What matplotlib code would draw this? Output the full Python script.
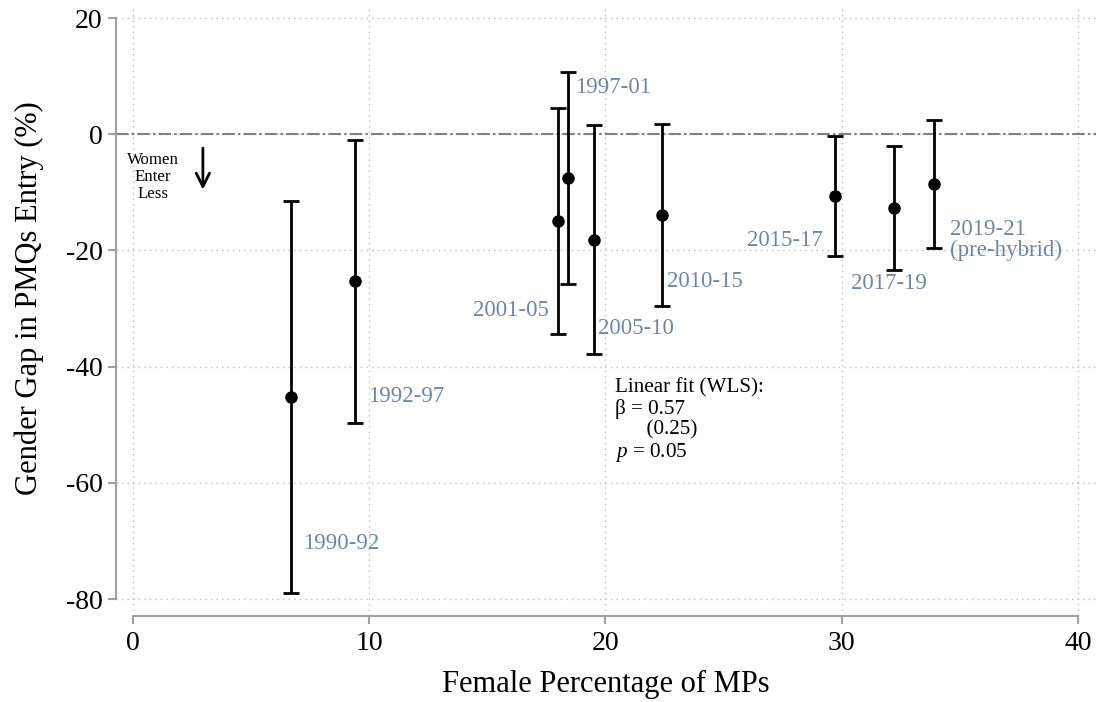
import matplotlib
matplotlib.use("Agg")
import matplotlib.pyplot as plt

plt.rcParams["font.family"] = ["Liberation Serif", "DejaVu Serif"]
plt.rcParams["mathtext.fontset"] = "custom"
plt.rcParams["mathtext.it"] = "Liberation Serif:italic"
plt.rcParams["mathtext.rm"] = "Liberation Serif"

# data
periods = ["1990-92", "1992-97", "2001-05", "1997-01", "2005-10",
           "2010-15", "2015-17", "2017-19", "2019-21\n(pre-hybrid)"]
female_pct = [6.7, 9.4, 18.0, 18.4, 19.5, 22.4, 29.7, 32.2, 33.9]
gap = [-45.2, -25.3, -14.9, -7.5, -18.2, -13.9, -10.6, -12.7, -8.6]
ci_low = [-79.0, -49.7, -34.4, -25.8, -37.8, -29.6, -21.0, -23.4, -19.6]
ci_high = [-11.5, -1.0, 4.5, 10.7, 1.6, 1.8, -0.3, -2.0, 2.4]

# label anchor (x, y, ha) for each period
label_pos = [(7.2, -70.4, "left"), (9.95, -45.1, "left"), (17.6, -30.3, "right"),
             (18.7, 8.0, "left"), (19.7, -33.4, "left"), (22.6, -25.4, "left"),
             (29.2, -18.2, "right"), (30.4, -25.6, "left"), (34.6, -18.2, "left")]

LABEL_COLOR = "#6a87a6"
AXIS_GRAY = "#a0a0a0"

fig = plt.figure(figsize=(10.98, 7.02), dpi=100)
ax = fig.add_axes([0.1056, 0.1225, 0.8923, 0.8642])

yerr = [[g - lo for g, lo in zip(gap, ci_low)],
        [hi - g for g, hi in zip(gap, ci_high)]]
ax.errorbar(female_pct, gap, yerr=yerr, fmt="o", color="black", ecolor="black",
            markersize=8, elinewidth=2, capsize=6, capthick=2, zorder=3)

for name, (lx, ly, ha) in zip(periods, label_pos):
    ax.text(lx, ly, name, color=LABEL_COLOR, fontsize=16.5, ha=ha, va="center",
            linespacing=1.0)

ax.axhline(0, color="#808080", lw=1.5, dashes=(6, 1.5, 1.2, 1.5), zorder=1)

ax.text(0.85, -7.4, "Women\nEnter\nLess", fontsize=12.2, ha="center", va="center",
        linespacing=1.1)
ax.annotate("", xy=(2.96, -10.0), xytext=(2.96, -1.9),
            arrowprops=dict(arrowstyle="->", color="black", lw=2,
                            mutation_scale=24))

ax.text(20.4, -42.0,
        "Linear fit (WLS):\n\u03b2 = 0.57\n      (0.25)\n$p$ = 0.05",
        fontsize=15.2, ha="left", va="top", linespacing=1.08)

ax.set_xlim(-0.72, 40.75)
ax.set_ylim(-82.9, 21.5)
ax.set_xticks([0, 10, 20, 30, 40])
ax.set_yticks([-80, -60, -40, -20, 0, 20])
ax.set_yticklabels(["-80", "-60", "-40", "-20", "0", "20"])

ax.grid(True, linestyle=(0, (1, 3)), color="#bdbdbd", lw=1)
ax.set_axisbelow(True)

for side in ["top", "right"]:
    ax.spines[side].set_visible(False)
for side in ["left", "bottom"]:
    ax.spines[side].set_color(AXIS_GRAY)
    ax.spines[side].set_linewidth(1.5)
ax.spines["left"].set_bounds(-80, 20)
ax.spines["bottom"].set_bounds(0, 40)

ax.tick_params(axis="both", colors=AXIS_GRAY, labelcolor="black", labelsize=20,
               length=6, width=1.5)
ax.tick_params(axis="x", pad=5)

ax.set_xlabel("Female Percentage of MPs", fontsize=22, labelpad=10)
ax.set_ylabel("Gender Gap in PMQs Entry (%)", fontsize=22)
ax.yaxis.set_label_coords(-0.073, 0.524)

fig.savefig("out.png", dpi=100)
